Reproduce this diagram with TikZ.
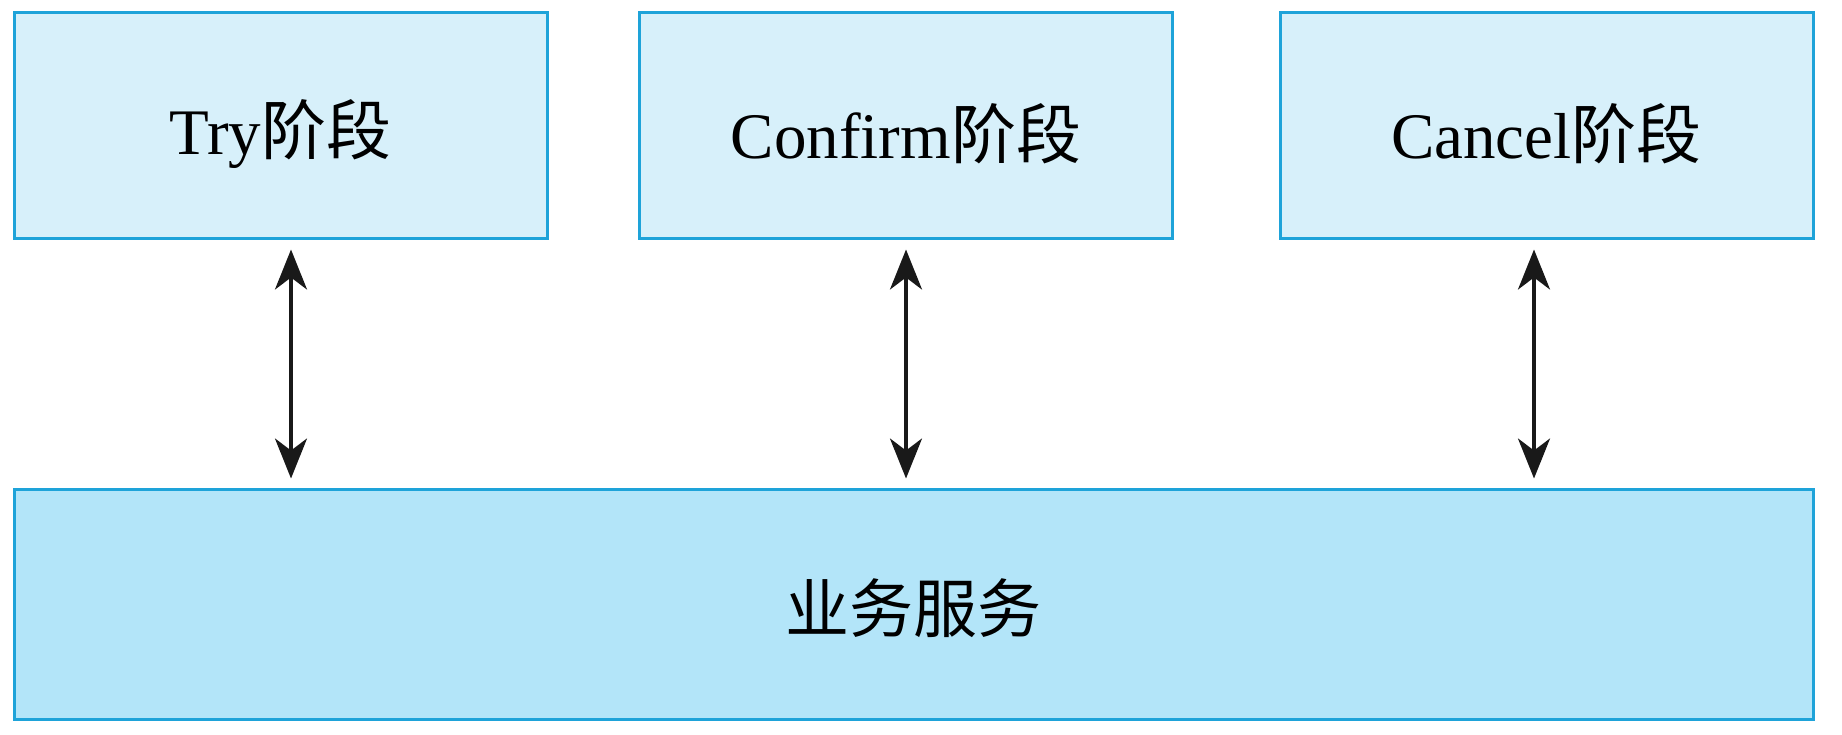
\documentclass[tikz,border=0pt]{standalone}
\usepackage{fontspec}
\setmainfont{Liberation Serif}
\newfontfamily\cjk{Noto Sans CJK SC}
\usetikzlibrary{arrows.meta}
\definecolor{bordercol}{HTML}{1EA3D9}
\definecolor{topfill}{HTML}{D7F0FA}
\definecolor{botfill}{HTML}{B3E5F9}
\newcommand{\lowertext}[2]{\raisebox{-#1}[\height][\depth]{#2}}
\tikzset{
  phase/.style={draw=bordercol, line width=3pt, fill=topfill, rectangle, inner sep=0pt,
    minimum width=533pt, minimum height=226pt, font=\fontsize{65}{70}\selectfont},
  service/.style={draw=bordercol, line width=3pt, fill=botfill, rectangle, inner sep=0pt,
    minimum width=1799pt, minimum height=230pt, font=\fontsize{64}{70}\selectfont},
  link/.style={line width=3.5pt, black!90, shorten <=10pt, shorten >=9pt,
    {Stealth[length=40pt,width=32pt,inset=12pt]}-{Stealth[length=40pt,width=32pt,inset=12pt]}}
}
\begin{document}
\begin{tikzpicture}[x=1pt,y=-1pt]
\useasboundingbox (0,0) rectangle (1842,734);
\node[phase] (try) at (280.5,125) {\lowertext{9pt}{Try{\cjk 阶段}}};
\node[phase] (confirm) at (906,125) {\lowertext{9pt}{Confirm{\cjk 阶段}}};
\node[phase] (cancel) at (1546.5,125) {\lowertext{9pt}{Cancel{\cjk 阶段}}};
\node[service] (svc) at (913.5,604) {\lowertext{4pt}{\cjk 业务服务}};
\draw[link] ([xshift=10.5pt]try.south) -- ([xshift=10.5pt]try.south |- svc.north);
\draw[link] (confirm.south) -- (confirm.south |- svc.north);
\draw[link] ([xshift=-12.5pt]cancel.south) -- ([xshift=-12.5pt]cancel.south |- svc.north);
\end{tikzpicture}
\end{document}
